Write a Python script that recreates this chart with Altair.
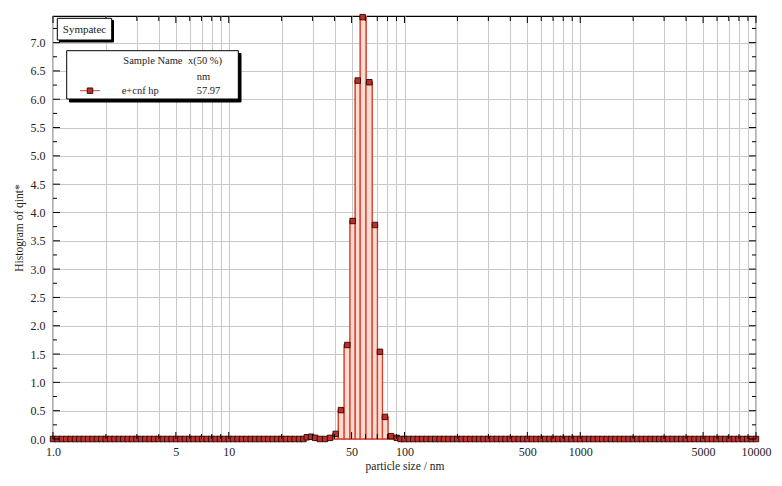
import altair as alt
import pandas as pd
import numpy as np

SERIF = "Liberation Serif"

# Instrument size-class grid: log-spaced mantissas per decade
mantissas = [1.000, 1.059, 1.122, 1.189, 1.259, 1.334, 1.413, 1.496, 1.585, 1.679,
             1.778, 1.884, 1.995, 2.113, 2.239, 2.371, 2.512, 2.661, 2.818, 2.985,
             3.162, 3.350, 3.548, 3.758, 3.981, 4.217, 4.467, 4.732, 5.012, 5.309,
             5.623, 5.957, 6.310, 6.683, 7.079, 7.499, 7.943, 8.414, 8.913, 9.441]
decades = [1, 10, 100, 1000]

# Non-zero region (size in nm, histogram q*)
peak_size = [27.8, 29.4, 31.0, 33.0, 35.3, 37.7, 40.6, 43.5, 47.3, 50.7,
             54.2, 57.8, 63.1, 67.9, 72.5, 77.4, 83.8, 90.3, 95.0]
peak_q = [0.03, 0.04, 0.02, 0.00, 0.00, 0.02, 0.09, 0.51, 1.66, 3.85,
          6.33, 7.45, 6.30, 3.78, 1.54, 0.39, 0.05, 0.02, 0.00]

x_labels = [1, 5, 10, 50, 100, 500, 1000, 5000, 10000]
y_ticks = [0.0, 0.5, 1.0, 1.5, 2.0, 2.5, 3.0, 3.5, 4.0, 4.5, 5.0, 5.5, 6.0, 6.5, 7.0]

# ---- build tables ----
base = [m * d for d in decades for m in mantissas] + [10000.0]
base = [s for s in base if not (27 < s < 97)]
df = pd.DataFrame({"size": base + peak_size, "q": [0.0] * len(base) + peak_q})
df = df.sort_values("size").reset_index(drop=True)

ps = np.array(peak_size)
mids = np.sqrt(ps[:-1] * ps[1:])
lo = np.concatenate([[ps[0] ** 2 / mids[0]], mids])
hi = np.concatenate([mids, [ps[-1] ** 2 / mids[-1]]])
bars_df = pd.DataFrame({"lo": lo, "hi": hi, "q": peak_q, "zero": 0.0})
bars_df = bars_df[bars_df.q > 0]

grid_x = [float(m * d) for d in decades for m in range(1, 10)] + [10000.0]
major_x = pd.DataFrame({"v": [v for v in grid_x if v in x_labels]})
minor_x = pd.DataFrame({"v": [v for v in grid_x if v not in x_labels]})
y_all = [i * 0.25 for i in range(0, 30)]
major_y = pd.DataFrame({"v": [v for v in y_all if abs(v * 2 - round(v * 2)) < 1e-9]})
minor_y = pd.DataFrame({"v": [v for v in y_all if abs(v * 2 - round(v * 2)) >= 1e-9]})

W, H = 703, 423
xs = alt.Scale(type="log", domain=[1, 10000], nice=False)
ys = alt.Scale(domain=[0, 7.47], nice=False, zero=False)

cond = " || ".join(f"datum.value == {v}" for v in x_labels)
label_expr = f"({cond}) ? (datum.value == 1 ? '1.0' : format(datum.value, 'd')) : ''"

x_axis = alt.Axis(values=grid_x, labelExpr=label_expr, grid=True, ticks=False, domain=False,
                  labelOverlap=False, labelFlush=False, labelPadding=7,
                  title="particle size / nm", titlePadding=3)
y_axis = alt.Axis(values=y_ticks, format=".1f", grid=True, ticks=False, domain=False,
                  labelPadding=8, title="Histogram of qint*", titlePadding=6)

line = alt.Chart(df).mark_line(color="#d8402c", strokeWidth=1, interpolate="step").encode(
    x=alt.X("size:Q", scale=xs, axis=x_axis),
    y=alt.Y("q:Q", scale=ys, axis=y_axis),
)

bars = alt.Chart(bars_df).mark_rect(fill="#fcdcd2", stroke="#d8402c", strokeWidth=1.3).encode(
    x=alt.X("lo:Q", scale=xs, axis=x_axis), x2="hi:Q",
    y=alt.Y("q:Q", scale=ys, axis=y_axis), y2="zero:Q",
)

pts = alt.Chart(df).mark_square(size=30, fill="#c0302a", stroke="#2a0505",
                                strokeWidth=0.9, opacity=1).encode(
    x=alt.X("size:Q", scale=xs, axis=x_axis),
    y=alt.Y("q:Q", scale=ys, axis=y_axis),
)


def xticks(d, length):
    top = alt.Chart(d).mark_rule(color="black", strokeWidth=1).encode(
        x=alt.X("v:Q", scale=xs, axis=x_axis), y=alt.value(0), y2=alt.value(length))
    bot = alt.Chart(d).mark_rule(color="black", strokeWidth=1).encode(
        x=alt.X("v:Q", scale=xs, axis=x_axis), y=alt.value(H), y2=alt.value(H - length))
    return [top, bot]


def yticks(d, length):
    left = alt.Chart(d).mark_rule(color="black", strokeWidth=1).encode(
        y=alt.Y("v:Q", scale=ys, axis=y_axis), x=alt.value(0), x2=alt.value(length))
    right = alt.Chart(d).mark_rule(color="black", strokeWidth=1).encode(
        y=alt.Y("v:Q", scale=ys, axis=y_axis), x=alt.value(W), x2=alt.value(W - length))
    return [left, right]


one = pd.DataFrame({"k": [0]})


def box(x1, y1, x2, y2, fill="white", stroke="black", sw=1):
    return alt.Chart(one).mark_rect(fill=fill, stroke=stroke, strokeWidth=sw).encode(
        x=alt.value(x1), x2=alt.value(x2), y=alt.value(y1), y2=alt.value(y2))


def txt(t, x, y, align="left", size=11):
    return alt.Chart(one).mark_text(text=t, align=align, baseline="middle", font=SERIF,
                                    fontSize=size, color="#222").encode(
        x=alt.value(x), y=alt.value(y))


annot = [
    box(6.5, 4.5, 60.5, 26, fill="black", stroke="black"),
    box(4.3, 2.3, 58.7, 24),
    txt("Sympatec", 31.5, 13.5, align="center", size=11),
    box(16.5, 37.5, 188, 86, fill="black", stroke="black"),
    box(13.7, 34.7, 185.3, 83),
    txt("Sample Name", 70.3, 45, size=10.5),
    txt("x(50 %)", 135, 45, size=10.5),
    txt("nm", 143.7, 60.5, size=10.5),
    txt("e+cnf hp", 68.7, 74.7, size=10.5),
    txt("57.97", 143.7, 74.7, size=10.5),
    alt.Chart(one).mark_rule(color="#d8402c", strokeWidth=1).encode(
        x=alt.value(27), x2=alt.value(47), y=alt.value(74.7)),
    alt.Chart(one).mark_square(size=30, fill="#c0302a", stroke="#2a0505",
                               strokeWidth=0.9, opacity=1).encode(
        x=alt.value(37), y=alt.value(74.7)),
]

layers = ([line, bars, pts]
          + xticks(major_x, 7) + xticks(minor_x, 5)
          + yticks(major_y, 7) + yticks(minor_y, 4)
          + annot)

chart = alt.layer(*layers).properties(
    width=W, height=H,
    autosize=alt.AutoSizeParams(type="none"),
    padding={"left": 45, "top": 8, "right": 18, "bottom": 39},
    background="white",
).configure_view(
    stroke="black", strokeWidth=1.2
).configure_axis(
    labelFont=SERIF, labelFontSize=12, labelColor="#222",
    titleFont=SERIF, titleFontSize=11.5, titleFontWeight="normal", titleColor="#222",
    gridColor="#c8c8c8", gridWidth=1, gridOpacity=1,
)

chart.save("out.html", embed_options={"renderer": "svg", "actions": False})
